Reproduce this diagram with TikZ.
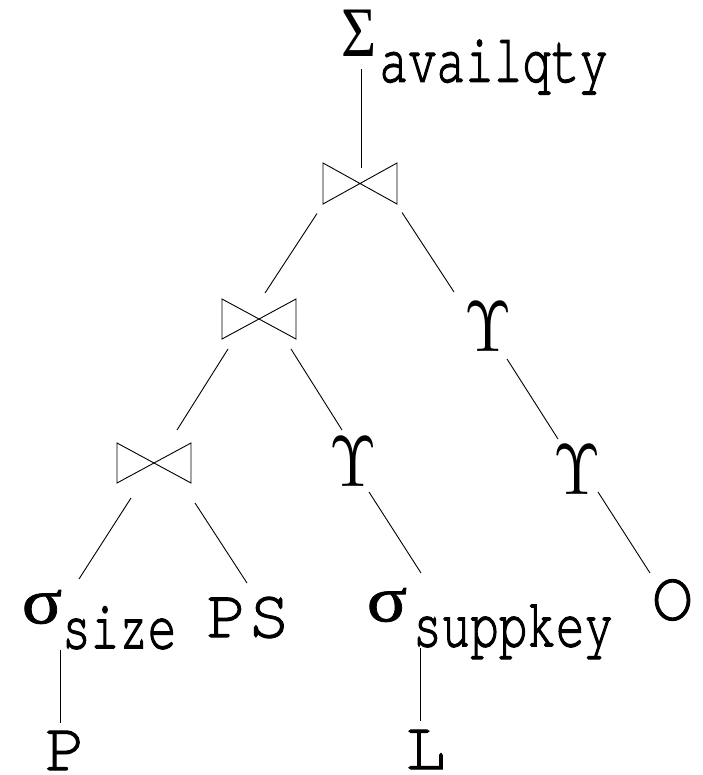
\documentclass[tikz,border=0pt]{standalone}
\usepackage{graphicx}
\usepackage{fontspec}
\setmainfont{Liberation Serif}
\newfontfamily\greekfam[FakeStretch=0.85]{Liberation Serif}
\newfontfamily\selfam[FakeStretch=1.15,FakeBold=1.2]{Liberation Serif}
\newfontfamily\monobigfam[FakeBold=1.3]{TeX Gyre Cursor}
\newfontfamily\monosubfam[FakeStretch=0.69,FakeBold=1.5]{TeX Gyre Cursor}

% text styles of the plan operators
\newcommand\relname{\monobigfam\fontsize{70}{70}\selectfont}
\newcommand\attrname{\monosubfam\fontsize{69}{69}\selectfont}
\newcommand\aggsym{{\greekfam\fontsize{71}{71}\selectfont Σ}}
\newcommand\selsym{{\selfam\fontsize{65}{65}\selectfont σ}}
\newcommand\groupsym{\scalebox{6.1}[7.2]{$\Upsilon$}}
% operator symbol followed by a lowered subscript that does not widen the node
\newcommand\withsub[3]{#1\rlap{\smash{\hspace{#2}\raisebox{-25pt}{\attrname #3}}}}

\begin{document}
\begin{tikzpicture}[x=1pt,y=-1pt,
  op/.style={inner sep=0pt, outer sep=0pt, anchor=center},
  joinop/.style={minimum width=74pt, minimum height=41pt, inner sep=0pt, outer sep=0pt},
  edgeline/.style={line width=0.9pt},
  bowline/.style={line width=0.9pt, line join=miter}]
\useasboundingbox (0,0) rectangle (702,775);

% operator nodes
\node[op] (agg) at (359,33.5) {\withsub{\aggsym}{3pt}{availqty}};
\node[joinop] (j1) at (360,183.5) {};
\node[joinop, minimum height=40pt] (j2) at (259,319) {};
\node[op] (u1) at (488,326.5) {\groupsym};
\node[joinop, minimum height=40pt] (j3) at (154,463) {};
\node[op] (u2) at (353,462) {\groupsym};
\node[op] (u3) at (577.5,470) {\groupsym};
\node[op] (ssize) at (42,607) {\withsub{\selsym}{0pt}{size}};
\node[op] (ps) at (248,617.5) {\relname PS};
\node[op] (ssupp) at (387,605) {\withsub{\selsym}{6pt}{suppkey}};
\node[op] (o) at (672.5,600) {\relname O};
\node[op] (p) at (65.5,750.5) {\relname P};
\node[op] (l) at (425.5,749.5) {\relname L};

% join symbols
\foreach \n in {j1,j2,j3}
  \draw[bowline] (\n.north west) -- (\n.south east) -- (\n.north east) -- (\n.south west) -- cycle;

% plan edges
\draw[edgeline] ([shift={(2,35.5)}]agg.center) -- ([shift={(1,-15)}]j1.center);
\draw[edgeline] ([shift={(-43,30)}]j1.center) -- ([shift={(6,-26)}]j2.center);
\draw[edgeline] ([shift={(42,29)}]j1.center) -- ([shift={(-34,-34.5)}]u1.center);
\draw[edgeline] ([shift={(-31,30)}]j2.center) -- ([shift={(23,-33)}]j3.center);
\draw[edgeline] ([shift={(32,30)}]j2.center) -- ([shift={(-11,-32)}]u2.center);
\draw[edgeline] ([shift={(19,32.5)}]u1.center) -- ([shift={(-19.5,-31)}]u3.center);
\draw[edgeline] ([shift={(-23,35)}]j3.center) -- ([shift={(37,-28)}]ssize.center);
\draw[edgeline] ([shift={(41,40)}]j3.center) -- ([shift={(-1,-34.5)}]ps.center);
\draw[edgeline] ([shift={(16,30)}]u2.center) -- ([shift={(34,-32)}]ssupp.center);
\draw[edgeline] ([shift={(20.5,22)}]u3.center) -- ([shift={(-22.5,-27)}]o.center);
\draw[edgeline] ([shift={(18,43)}]ssize.center) -- ([shift={(-5.5,-27.5)}]p.center);
\draw[edgeline] ([shift={(33,43)}]ssupp.center) -- ([shift={(-5.5,-28.5)}]l.center);
\end{tikzpicture}
\end{document}
